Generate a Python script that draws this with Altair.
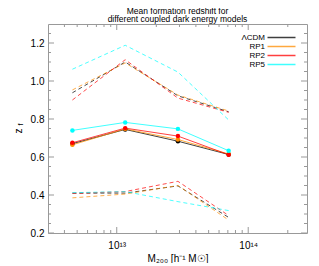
import altair as alt
import pandas as pd

# ---- data ----
models = ["ΛCDM", "RP1", "RP2", "RP5"]
colors = ["#000000", "#ff8c00", "#ff0000", "#00ffff"]
mass = [4.6e12, 1.16e13, 2.92e13, 7.1e13]

mean_lcdm = [0.670, 0.745, 0.683, 0.613]
mean_rp1 = [0.664, 0.748, 0.692, 0.616]
mean_rp2 = [0.675, 0.752, 0.710, 0.612]
mean_rp5 = [0.740, 0.782, 0.748, 0.633]

up_lcdm = [0.938, 1.100, 0.922, 0.838]
up_rp1 = [0.953, 1.095, 0.926, 0.842]
up_rp2 = [0.900, 1.112, 0.910, 0.835]
up_rp5 = [1.062, 1.188, 1.047, 0.795]

lo_lcdm = [0.410, 0.410, 0.448, 0.282]
lo_rp1 = [0.385, 0.405, 0.450, 0.268]
lo_rp2 = [0.408, 0.418, 0.472, 0.292]
lo_rp5 = [0.412, 0.418, 0.365, 0.318]

x_major = [1e13, 1e14]
x_labels = ["10¹³", "10¹⁴"]
x_minor = [4e12, 5e12, 6e12, 7e12, 8e12, 9e12,
           2e13, 3e13, 4e13, 5e13, 6e13, 7e13, 8e13, 9e13, 2e14]
y_major = [0.2, 0.4, 0.6, 0.8, 1.0, 1.2]
y_minor = [0.25, 0.3, 0.35, 0.45, 0.5, 0.55, 0.65, 0.7, 0.75,
           0.85, 0.9, 0.95, 1.05, 1.1, 1.15, 1.25]

title_lines = ["Mean formation redshift for", "different coupled dark energy models"]
x_title = "M₂₀₀ [h⁻¹ M☉]"
y_title = "z"
y_sub = "f"

# ---- build table ----
series = {
    "mean": [mean_lcdm, mean_rp1, mean_rp2, mean_rp5],
    "upper": [up_lcdm, up_rp1, up_rp2, up_rp5],
    "lower": [lo_lcdm, lo_rp1, lo_rp2, lo_rp5],
}
rows = []
for kind, lists in series.items():
    for m, vals in zip(models, lists):
        for x, v in zip(mass, vals):
            rows.append({"mass": x, "z": v, "model": m, "kind": kind})
df = pd.DataFrame(rows)

W, H = 259, 209
FONT = "Liberation Sans"

xs = alt.Scale(type="log", domain=[3e12, 2.8e14], nice=False)
ys = alt.Scale(domain=[0.2, 1.3], nice=False, zero=False)
cs = alt.Scale(domain=models, range=colors)

label_expr = "datum.value < 5e13 ? '%s' : '%s'" % (x_labels[0], x_labels[1])

x_enc = alt.X("mass:Q", scale=xs, axis=alt.Axis(
    values=x_major, labelExpr=label_expr, ticks=False, domain=False, grid=False,
    labelFontSize=10, labelFont=FONT, labelColor="#000", labelPadding=7,
    title=x_title, titleFont=FONT, titleFontSize=10, titleFontWeight="normal",
    titleColor="#000", titlePadding=3))
y_enc = alt.Y("z:Q", scale=ys, axis=alt.Axis(
    values=y_major, format=".1f", ticks=False, domain=False, grid=False,
    labelFontSize=10, labelFont=FONT, labelColor="#000", labelPadding=4,
    title=y_title, titleFont=FONT, titleFontSize=10, titleFontWeight="normal",
    titleColor="#000", titleAngle=270, titleX=-30, titleY=H / 2 + 2,
    titleAlign="center", titleBaseline="middle"))

legend = alt.Legend(title=None, orient="none", legendX=229, legendY=9,
                    labelAlign="right", labelOffset={"expr": "-21"}, labelFont=FONT,
                    labelFontSize=8, labelColor="#000",
                    symbolType="M-4,0H4", symbolSize=49, symbolStrokeWidth=1.5,
                    rowPadding=0, labelLimit=0)

base = alt.Chart(df)
solid = base.transform_filter("datum.kind == 'mean'").mark_line(
    strokeWidth=1, opacity=0.75).encode(
    x=x_enc, y=y_enc,
    color=alt.Color("model:N", scale=cs, legend=legend, sort=models),
    order=alt.Order("mass:Q"))
dashed = base.transform_filter("datum.kind != 'mean'").mark_line(
    strokeWidth=1, strokeDash=[4, 3], opacity=0.7).encode(
    x="mass:Q", y="z:Q",
    color=alt.Color("model:N", scale=cs, legend=None),
    detail="kind:N", order=alt.Order("mass:Q"))
pts = base.transform_filter("datum.kind == 'mean'").mark_circle(
    size=20, opacity=1).encode(
    x="mass:Q", y="z:Q", color=alt.Color("model:N", scale=cs, legend=None))

TICK = "#999"
xmaj = pd.DataFrame({"mass": x_major})
xmin = pd.DataFrame({"mass": x_minor})
ymaj = pd.DataFrame({"z": y_major})
ymin = pd.DataFrame({"z": y_minor})


def xticks(d, L):
    b = alt.Chart(d).mark_rule(color=TICK, strokeWidth=1)
    return [
        b.encode(x=alt.X("mass:Q", scale=xs), y=alt.value(H), y2=alt.value(H - L)),
        b.encode(x=alt.X("mass:Q", scale=xs), y=alt.value(0), y2=alt.value(L)),
    ]


def yticks(d, L):
    b = alt.Chart(d).mark_rule(color=TICK, strokeWidth=1)
    return [
        b.encode(y=alt.Y("z:Q", scale=ys), x=alt.value(0), x2=alt.value(L)),
        b.encode(y=alt.Y("z:Q", scale=ys), x=alt.value(W), x2=alt.value(W - L)),
    ]


tick_layers = xticks(xmaj, 6) + xticks(xmin, 3) + yticks(ymaj, 6) + yticks(ymin, 3)

flab = alt.Chart(pd.DataFrame({"t": [y_sub]})).mark_text(
    angle=270, fontSize=7, font=FONT, color="#000",
    align="center", baseline="middle").encode(
    text="t:N", x=alt.value(-27), y=alt.value(H / 2 - 4))

chart = alt.layer(solid, dashed, pts, *tick_layers, flab).properties(
    width=W, height=H,
    title=alt.TitleParams(title_lines, fontSize=8.5, font=FONT, fontWeight="normal",
                          color="#000", anchor="middle", offset=0, lineHeight=7.6),
    autosize=alt.AutoSizeParams(type="none"),
    padding={"left": 40, "top": 16, "right": 4, "bottom": 30},
).configure_view(stroke="#999", strokeWidth=1)

chart.save("out.html", embed_options={"renderer": "svg", "actions": False})
